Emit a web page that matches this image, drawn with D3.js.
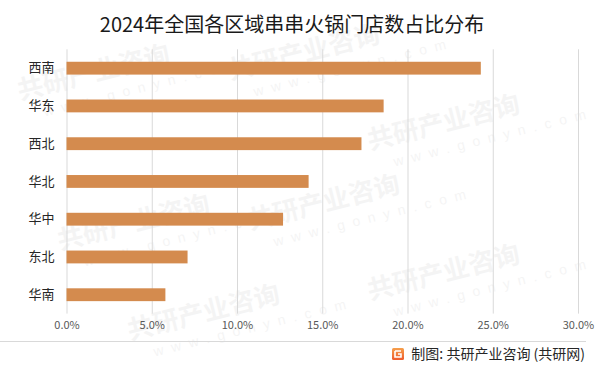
<!DOCTYPE html>
<html><head><meta charset="utf-8">
<script src="https://cdn.jsdelivr.net/npm/d3@7"></script>
<style>body{margin:0;background:#fff}svg{display:block}</style>
</head><body>
<svg id="c" width="600" height="371"></svg>
<script>
const title = "2024年全国各区域串串火锅门店数占比分布";
const categories = ["西南","华东","西北","华北","华中","东北","华南"];
const values = [24.3, 18.6, 17.3, 14.2, 12.7, 7.1, 5.8];
const tickValues = [0,5,10,15,20,25,30];
const source = "制图: 共研产业咨询 (共研网)";

const svg = d3.select("#c");
const font = "'Microsoft YaHei','Noto Sans CJK SC',sans-serif";

// watermark (kept inside the canvas)
const wm = svg.append("g").attr("pointer-events","none");
const wmPos = [[20,100],[230,80],[370,150],[60,250],[250,230],[370,300],[130,340]];
wmPos.forEach(([x,y])=>{
  const g = wm.append("g").attr("transform",`translate(${x},${y}) rotate(-14)`);
  g.append("text").attr("font-family",font).attr("font-size",26).attr("font-weight","bold")
    .attr("fill","#000").attr("opacity",0.04).text("共研产业咨询");
  g.append("text").attr("y",22).attr("x",20).attr("font-family","Arial,sans-serif").attr("font-size",14)
    .attr("letter-spacing",8).attr("fill","#000").attr("opacity",0.04).text("www.gonyn.com");
});

svg.append("text").attr("x",292).attr("y",32).attr("text-anchor","middle")
  .attr("font-family",font).attr("font-size",20).attr("fill","#1a1a1a").text(title);

const x = d3.scaleLinear().domain([0,30]).range([66.5,578]);
const y = d3.scaleBand().domain(categories).range([49.3,313.6]).paddingInner(0.66).paddingOuter(0.33);

const xAxis = d3.axisBottom(x).tickValues(tickValues).tickSize(0).tickFormat(d=>d.toFixed(1)+"%");
const gx = svg.append("g").attr("transform","translate(0,313.6)").call(xAxis);
gx.select(".domain").remove();
gx.selectAll("text").attr("font-family",font).attr("font-size",11).attr("fill","#595959").attr("dy","0.9em").attr("y",6);

const grid = d3.axisBottom(x).tickValues(tickValues).tickSize(-(313.6-49.3)).tickFormat("");
const gg = svg.append("g").attr("transform","translate(0,313.6)").call(grid);
gg.select(".domain").remove();
gg.selectAll("line").attr("stroke","#d9d9d9").attr("stroke-width",1);

const data = categories.map((c,i)=>({c,v:values[i]}));
svg.append("g").selectAll("rect").data(data).join("rect")
  .attr("x",x(0)).attr("y",d=>y(d.c)).attr("width",d=>x(d.v)-x(0)).attr("height",y.bandwidth())
  .attr("fill","#d48b4e");

const yAxis = d3.axisLeft(y).tickSize(0).tickPadding(12);
const gy = svg.append("g").attr("transform","translate(66.5,0)").call(yAxis);
gy.select(".domain").remove();
gy.selectAll("text").attr("font-family",font).attr("font-size",13).attr("fill","#262626");

svg.append("line").attr("x1",0).attr("x2",586).attr("y1",341.5).attr("y2",341.5).attr("stroke","#d9d9d9");

// logo
const defs = svg.append("defs");
const lg = defs.append("linearGradient").attr("id","lg").attr("x1",0).attr("y1",0).attr("x2",0).attr("y2",1);
lg.append("stop").attr("offset",0).attr("stop-color","#f6a04c");
lg.append("stop").attr("offset",1).attr("stop-color","#ee5a2c");
const logo = svg.append("g").attr("transform","translate(392,348)");
logo.append("rect").attr("width",12).attr("height",12).attr("rx",1.5).attr("fill","url(#lg)");
logo.append("path").attr("d","M3,3 H9 M3,3 V9 H9 V6 H6").attr("stroke","#fff").attr("stroke-width",1.6).attr("fill","none");

svg.append("text").attr("x",585).attr("y",359).attr("text-anchor","end")
  .attr("font-family",font).attr("font-size",14).attr("fill","#262626").text(source);
</script>
</body></html>
